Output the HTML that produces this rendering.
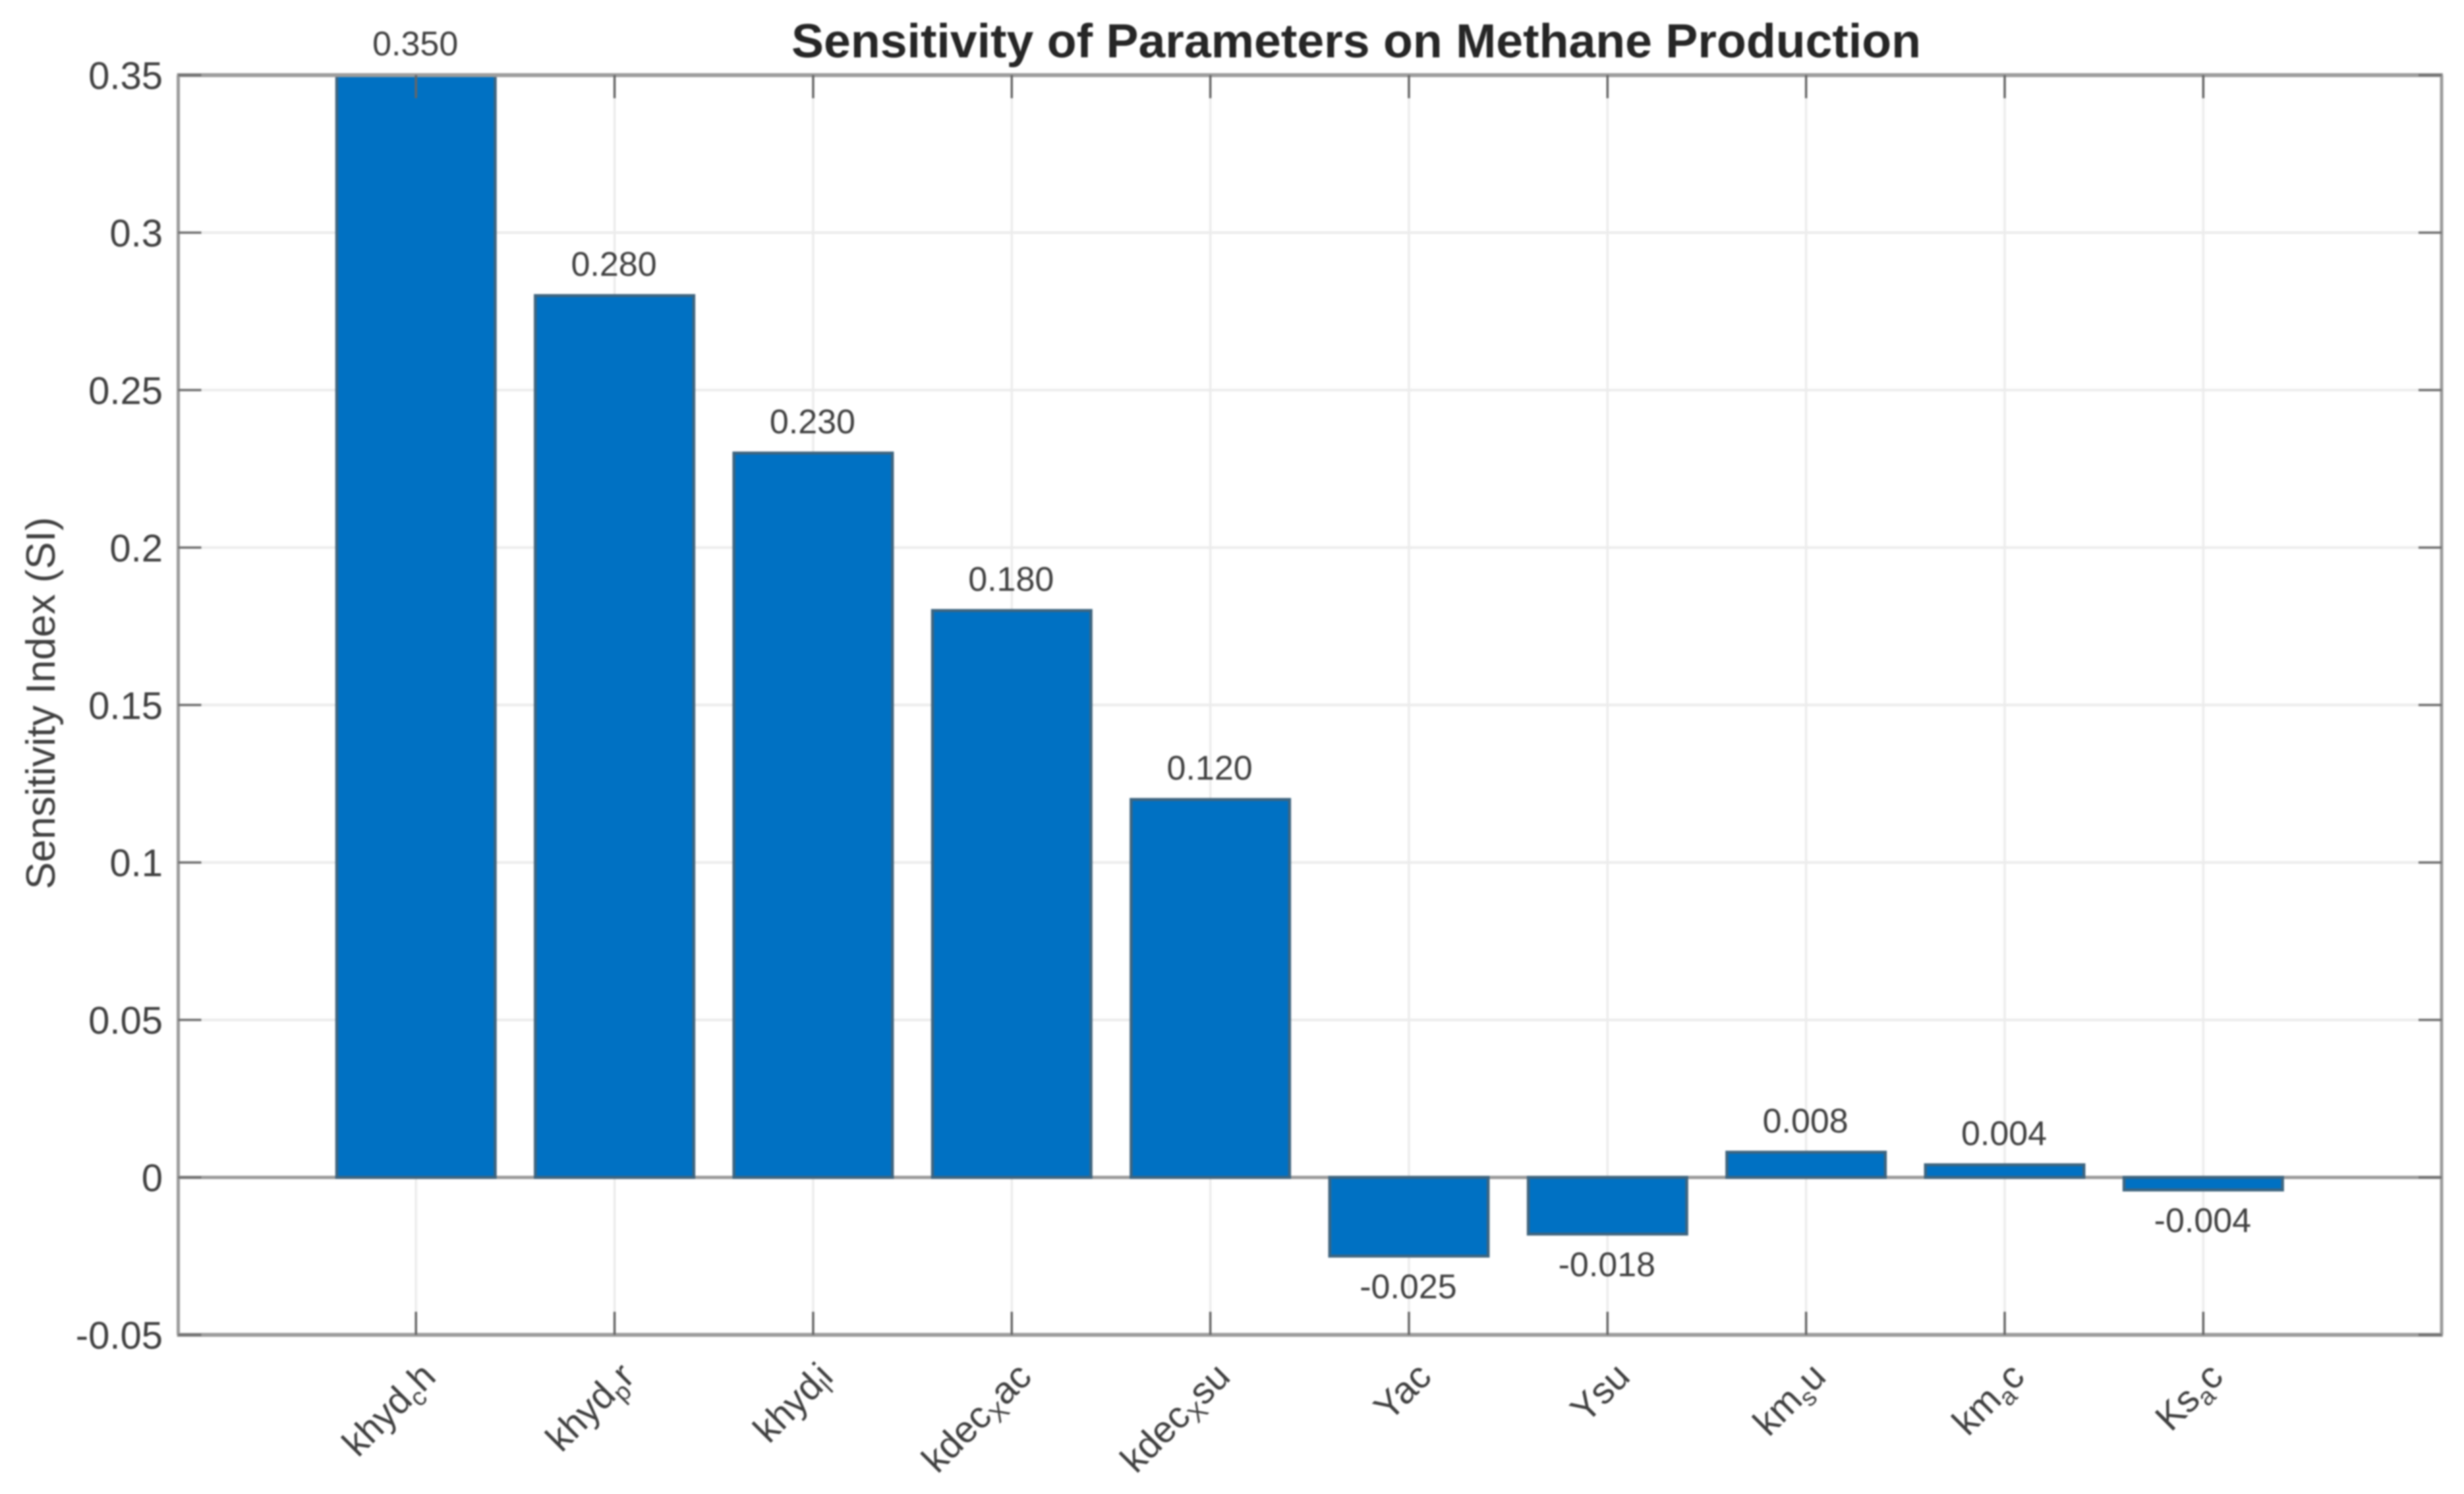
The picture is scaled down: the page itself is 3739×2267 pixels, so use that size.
<!DOCTYPE html>
<html lang="en">
<head>
<meta charset="utf-8">
<title>Sensitivity of Parameters on Methane Production</title>
<style>
html,body{margin:0;padding:0;background:#fff;width:3739px;height:2267px;overflow:hidden}
svg{display:block;font-family:"Liberation Sans",Arial,sans-serif}
</style>
</head>
<body>
<svg id="chart" xmlns="http://www.w3.org/2000/svg" width="3739" height="2267" viewBox="0 0 3739 2267">
  <rect x="0" y="0" width="3739" height="2267" fill="#ffffff"/>
  <g id="root" style="filter:blur(1.2px)">
    <g id="grid"></g>
    <g id="baseline"></g>
    <g id="bars"></g>
    <g id="axes"></g>
    <g id="ticks"></g>
    <g id="values"></g>
    <g id="ylabels"></g>
    <g id="xlabels"></g>
    <text x="2058" y="87" text-anchor="middle" font-size="72" font-weight="700" fill="#262626" textLength="1714" lengthAdjust="spacingAndGlyphs">Sensitivity of Parameters on Methane Production</text>
    <text transform="translate(83,1067) rotate(-90)" text-anchor="middle" font-size="62" fill="#404040">Sensitivity Index (SI)</text>
  </g>
</svg>
<script>
// Chart data
const categories = ['khyd_ch', 'khyd_pr', 'khyd_li', 'kdec_Xac', 'kdec_Xsu', 'Yac', 'Ysu', 'km_su', 'km_ac', 'Ks_ac'];
const sensitivity = [0.35, 0.28, 0.23, 0.18, 0.12, -0.025, -0.018, 0.008, 0.004, -0.004];
const yTicks = [-0.05, 0, 0.05, 0.1, 0.15, 0.2, 0.25, 0.3, 0.35];
const yTickLabels = ['-0.05', '0', '0.05', '0.1', '0.15', '0.2', '0.25', '0.3', '0.35'];

// Plot geometry and axis functions
const plot = { left: 270.5, right: 3705, top: 114, bottom: 2025.5 };
const xDomain = [-0.197, 11.2];
const yDomain = [-0.05, 0.35];
const barWidth = 0.798;
const tickLength = 35;
const xScale = v => plot.left + (v - xDomain[0]) / (xDomain[1] - xDomain[0]) * (plot.right - plot.left);
const yScale = v => plot.bottom - (v - yDomain[0]) / (yDomain[1] - yDomain[0]) * (plot.bottom - plot.top);

const NS = 'http://www.w3.org/2000/svg';
function make(tag, parent, attrs) {
  const el = document.createElementNS(NS, tag);
  for (const k in attrs) el.setAttribute(k, attrs[k]);
  parent.appendChild(el);
  return el;
}
const gGrid = document.getElementById('grid');
const gBase = document.getElementById('baseline');
const gBars = document.getElementById('bars');
const gAxes = document.getElementById('axes');
const gTicks = document.getElementById('ticks');
const gValues = document.getElementById('values');
const gYLabels = document.getElementById('ylabels');
const gXLabels = document.getElementById('xlabels');

// Horizontal grid lines, y ticks and y labels
yTicks.forEach((t, i) => {
  const y = yScale(t);
  const gridLine = make('line', gGrid, { x1: plot.left, x2: plot.right, y1: y, y2: y, stroke: '#ececec', 'stroke-width': 4 });
  
  
  const leftTick = make('line', gTicks, { x1: plot.left, x2: plot.left + tickLength, y1: y, y2: y, stroke: '#707070', 'stroke-width': 3.5 });
  
  
  const rightTick = make('line', gTicks, { x1: plot.right - tickLength, x2: plot.right, y1: y, y2: y, stroke: '#707070', 'stroke-width': 3.5 });
  
  
  const label = make('text', gYLabels, { x: 247, y: y + 21, 'text-anchor': 'end', 'font-size': 58, fill: '#404040' });
  
  
  label.textContent = yTickLabels[i];
});

// Baseline at zero
const baseY = yScale(0);
const baseLine = make('line', gBase, { x1: plot.left, x2: plot.right, y1: baseY, y2: baseY, stroke: '#9a9a9a', 'stroke-width': 5 });



// Bars, vertical grid, x ticks, value labels, category labels
categories.forEach((cat, i) => {
  const pos = i + 1;
  const cx = xScale(pos);
  const vGrid = make('line', gGrid, { x1: cx, x2: cx, y1: plot.top, y2: plot.bottom, stroke: '#ececec', 'stroke-width': 3.5 });
  
  

  const v = sensitivity[i];
  const x0 = xScale(pos - barWidth / 2);
  const x1 = xScale(pos + barWidth / 2);
  const yA = yScale(Math.max(v, 0));
  const yB = yScale(Math.min(v, 0));
  const bar = make('rect', gBars, { x: x0, y: yA, width: x1 - x0, height: yB - yA, fill: '#0071c3', stroke: '#3e6580', 'stroke-width': 4.5 });
  
  

  const tickTop = make('line', gTicks, { x1: cx, x2: cx, y1: plot.top, y2: plot.top + tickLength, stroke: '#666666', 'stroke-width': 3.5 });
  
  
  const tickBottom = make('line', gTicks, { x1: cx, x2: cx, y1: plot.bottom - tickLength, y2: plot.bottom, stroke: '#666666', 'stroke-width': 3.5 });
  
  

  const valueY = v >= 0 ? yScale(v) - 30 : yScale(v) + 64;
  const valueText = make('text', gValues, { x: cx - 1, y: valueY, 'text-anchor': 'middle', 'font-size': 52, fill: '#404040' });
  
  
  valueText.textContent = v.toFixed(3);

  const parts = cat.split('_');
  const ax = cx + 33 + (parts.length === 1 ? 4 : 0);
  const ay = 2092;
  const label = make('text', gXLabels, { transform: 'translate(' + ax + ',' + ay + ') rotate(-45)', 'text-anchor': 'end', 'font-size': 57, fill: '#404040' });
  
  
  if (parts.length === 1) {
    label.textContent = cat;
  } else {
    const head = make('tspan', label, {});
    head.textContent = parts[0];
    const sub = make('tspan', label, { dy: 12, 'font-size': 38 });
    sub.textContent = parts[1].charAt(0);
    const tail = make('tspan', label, { dy: -12 });
    tail.textContent = parts[1].slice(1);
  }
});

// Axes box
const boxTop = make('line', gAxes, { x1: plot.left - 2, x2: plot.right + 2, y1: plot.top, y2: plot.top, stroke: '#9c9c9c', 'stroke-width': 6 });


const boxBottom = make('line', gAxes, { x1: plot.left - 2, x2: plot.right + 2, y1: plot.bottom, y2: plot.bottom, stroke: '#9c9c9c', 'stroke-width': 6 });


const boxLeft = make('line', gAxes, { x1: plot.left, x2: plot.left, y1: plot.top, y2: plot.bottom, stroke: '#9c9c9c', 'stroke-width': 5 });


const boxRight = make('line', gAxes, { x1: plot.right, x2: plot.right, y1: plot.top, y2: plot.bottom, stroke: '#9c9c9c', 'stroke-width': 5 });


</script>
</body>
</html>
